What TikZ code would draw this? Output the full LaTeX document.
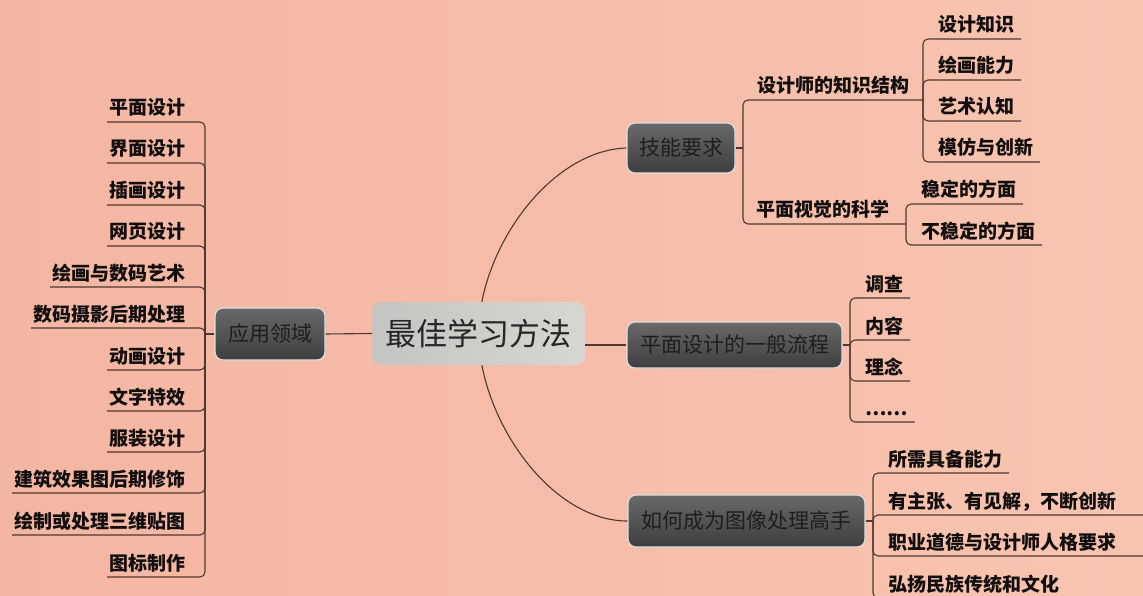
\documentclass[tikz,border=0pt]{standalone}
\usepackage{fontspec}
\setmainfont{Noto Sans CJK SC}
\definecolor{bgl}{RGB}{243,182,163}
\definecolor{bgr}{RGB}{248,196,176}
\definecolor{linec}{RGB}{80,55,48}
\definecolor{leafc}{RGB}{18,14,14}
\definecolor{boxtop}{RGB}{105,105,105}
\definecolor{boxmid}{RGB}{128,128,128}
\definecolor{boxbot}{RGB}{62,62,62}
\definecolor{boxtext}{RGB}{30,30,30}
\definecolor{cenl}{RGB}{196,196,194}
\definecolor{cenr}{RGB}{214,214,210}
\begin{document}
\begin{tikzpicture}[x=1pt,y=-1pt,
  conn/.style={draw=linec, line width=1.1pt, rounded corners=5pt},
  leaf/.style={font=\bfseries\fontsize{19}{19}\selectfont, text=leafc, inner xsep=7pt, inner ysep=0pt, text height=16pt, text depth=7pt, outer sep=0pt},
  rleaf/.style={leaf, anchor=south west},
  wleaf/.style={rleaf, text width=250pt, align=left},
  lleaf/.style={leaf, anchor=south east, inner xsep=2pt},
  mleaf/.style={leaf, anchor=south, inner xsep=2pt},
  topic/.style={rounded corners=8pt, draw=white!75!gray, line width=1.2pt, top color=boxtop, middle color=boxmid, bottom color=boxbot, font=\fontsize{21}{21}\selectfont, text=boxtext, inner sep=0pt},
  center/.style={rounded corners=9pt, left color=cenl, right color=cenr, font=\fontsize{31}{31}\selectfont, text=black!85, inner sep=0pt, minimum width=213pt, minimum height=63pt}
]
\useasboundingbox (0,0) rectangle (1143,596);
\shade[left color=bgl, right color=bgr] (0,0) rectangle (1143,596);

% main nodes
\node[center] (c) at (478.5,333.5) {最佳学习方法};
\node[topic, minimum width=110pt, minimum height=52pt] (app) at (270,334) {应用领域};
\node[topic, minimum width=108pt, minimum height=50pt] (skill) at (681,148) {技能要求};
\node[topic, minimum width=215pt, minimum height=46pt] (flow) at (734.5,345) {平面设计的一般流程};
\node[topic, minimum width=237pt, minimum height=52pt] (expert) at (746.5,521) {如何成为图像处理高手};

% main connectors
\draw[conn] (app.east) -- (c.west);
\draw[conn] (flow.west -| c.east) -- (flow.west);
\draw[conn] (c.84) .. controls (497,225) and (560,150) .. (skill.west);
\draw[conn] (c.-84) .. controls (497,443) and (560,521) .. (expert.west);

% left leaves
\coordinate (jl) at (205,334);
\draw[conn] (app.west) -- (jl);
\node[lleaf] (l1) at (187,122) {平面设计};
\node[lleaf] (l2) at (187,163) {界面设计};
\node[lleaf] (l3) at (187,205) {插画设计};
\node[lleaf] (l4) at (187,246) {网页设计};
\node[lleaf] (l5) at (187,287) {绘画与数码艺术};
\node[lleaf] (l6) at (187,328) {数码摄影后期处理};
\node[lleaf] (l7) at (187,370) {动画设计};
\node[lleaf] (l8) at (187,411) {文字特效};
\node[lleaf] (l9) at (187,452) {服装设计};
\node[lleaf] (l10) at (187,493) {建筑效果图后期修饰};
\node[lleaf] (l11) at (187,535) {绘制或处理三维贴图};
\node[lleaf] (l12) at (187,577) {图标制作};
\foreach \i in {1,...,12} \draw[conn] (jl) |- (l\i.south west);

% skill branch
\coordinate (js) at (743,148);
\draw[conn] (skill.east) -- (js);
\coordinate (k1) at (923,100);
\coordinate (k2) at (906,224);
\node[mleaf] (s1) at (833,100) {设计师的知识结构};
\node[mleaf] (s2) at (823,224) {平面视觉的科学};
\draw[conn] (js) |- (k1);
\draw[conn] (js) |- (k2);
\node[rleaf] (a1) at (931,39) {设计知识};
\node[rleaf] (a2) at (931,80) {绘画能力};
\node[rleaf] (a3) at (931,121) {艺术认知};
\node[rleaf] (a4) at (931,162) {模仿与创新};
\foreach \i in {1,...,4} \draw[conn] (k1) |- (a\i.south east);
\node[rleaf] (b1) at (914,204) {稳定的方面};
\node[rleaf] (b2) at (914,245) {不稳定的方面};
\foreach \i in {1,2} \draw[conn] (k2) |- (b\i.south east);

% flow branch
\coordinate (jf) at (850,345);
\draw[conn] (flow.east) -- (jf);
\node[rleaf] (f1) at (858,298) {调查};
\node[rleaf] (f2) at (858,340) {内容};
\node[rleaf] (f3) at (858,381) {理念};
\node[rleaf] (f4) at (858,422) {……};
\foreach \i in {1,...,4} \draw[conn] (jf) |- (f\i.south east);

% expert branch
\coordinate (je) at (873,521);
\draw[conn] (expert.east) -- (je);
\node[rleaf] (e1) at (881,473) {所需具备能力};
\node[wleaf] (e2) at (881,515) {有主张、有见解，不断创新};
\node[wleaf] (e3) at (881,556) {职业道德与设计师人格要求};
\node[rleaf] (e4) at (881,598) {弘扬民族传统和文化};
\foreach \i in {1,...,4} \draw[conn] (je) |- (e\i.south east);
\end{tikzpicture}
\end{document}
